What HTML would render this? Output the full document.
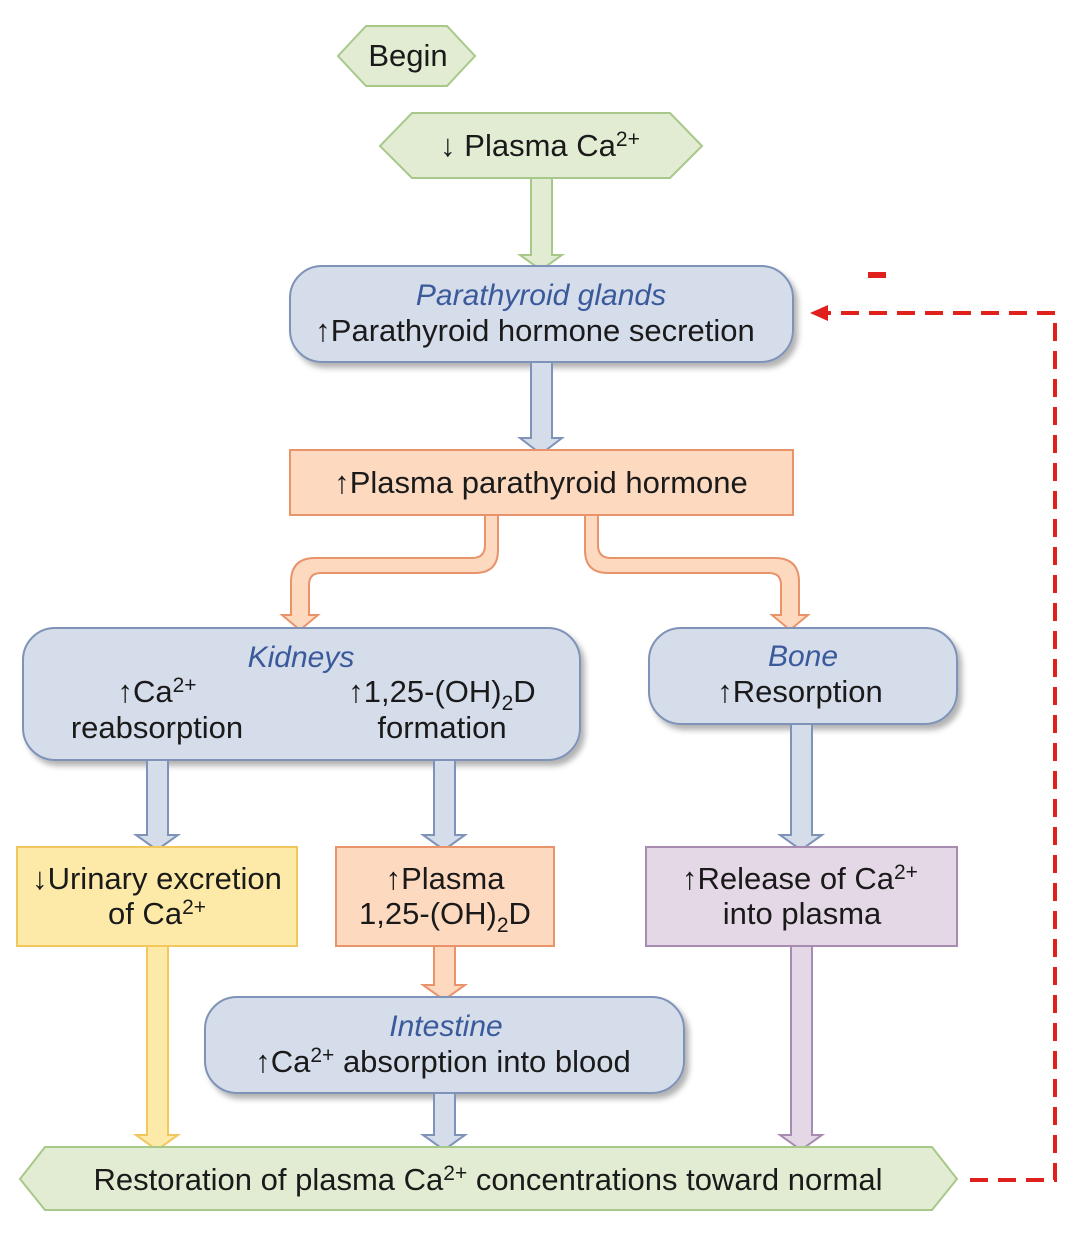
<!DOCTYPE html>
<html><head><meta charset="utf-8"><style>
html,body{margin:0;padding:0;background:#fff;}
svg{display:block;font-family:"Liberation Sans",sans-serif;}
.t{font-size:31px;fill:#1a1a1a;text-anchor:middle;}
.h{font-size:30px;fill:#3a5a9c;font-style:italic;text-anchor:middle;}
</style></head><body>
<svg width="1084" height="1236" viewBox="0 0 1084 1236">
<defs>
<filter id="sh" x="-10%" y="-10%" width="130%" height="140%"><feDropShadow dx="4" dy="5" stdDeviation="3" flood-color="#000" flood-opacity="0.3"/></filter>
</defs>
<g>
<polygon points="338,56 366,26 447,26 475,56 447,86 366,86" fill="#e2ecd2" stroke="#a8c88a" stroke-width="2"/>
<text class="t" x="408" y="66">Begin</text></g>
<g>
<polygon points="380,146 412,113 670,113 702,146 670,178 412,178" fill="#e2ecd2" stroke="#a8c88a" stroke-width="2"/>
<text class="t" x="540" y="156">↓ Plasma Ca<tspan dy="-10" font-size="21">2+</tspan></text></g>
<polygon points="531,178 552,178 552,255 562,255 541,270 520,255 531,255" fill="#e2ecd2" stroke="#a8c88a" stroke-width="2"/>
<g>
<rect x="290" y="266" width="503" height="96" rx="32" fill="#d5dcea" stroke="#7f93b8" stroke-width="2" filter="url(#sh)"/>
<text class="h" x="541" y="305">Parathyroid glands</text>
<text class="t" x="535" y="341">↑Parathyroid hormone secretion</text></g>
<polygon points="531,362 552,362 552,438 562,438 541,454 520,438 531,438" fill="#d5dcea" stroke="#7f93b8" stroke-width="2"/>
<g>
<rect x="290" y="450" width="503" height="65" fill="#fdd9c0" stroke="#e8936a" stroke-width="2"/>
<text class="t" x="541" y="493">↑Plasma parathyroid hormone</text></g>
<path d="M485,515 L485,545 Q485,558 472,558 L315,558 Q291,558 291,582 L291,615 L282,615 L300,630 L318,615 L309,615 L309,585 Q309,573 321,573 L475,573 Q498,573 498,550 L498,515 Z" fill="#fdd9c0" stroke="#e8936a" stroke-width="2"/>
<path d="M598,515 L598,545 Q598,558 611,558 L775,558 Q799,558 799,582 L799,615 L808,615 L790,630 L772,615 L781,615 L781,585 Q781,573 769,573 L608,573 Q585,573 585,550 L585,515 Z" fill="#fdd9c0" stroke="#e8936a" stroke-width="2"/>
<g>
<rect x="23" y="628" width="557" height="132" rx="32" fill="#d5dcea" stroke="#7f93b8" stroke-width="2" filter="url(#sh)"/>
<text class="h" x="301" y="667">Kidneys</text>
<text class="t" x="157" y="702">↑Ca<tspan dy="-10" font-size="21">2+</tspan></text>
<text class="t" x="157" y="738">reabsorption</text>
<text class="t" x="442" y="702">↑1,25-(OH)<tspan dy="8" font-size="21">2</tspan><tspan dy="-8">D</tspan></text>
<text class="t" x="442" y="738">formation</text></g>
<g>
<rect x="649" y="628" width="308" height="96" rx="32" fill="#d5dcea" stroke="#7f93b8" stroke-width="2" filter="url(#sh)"/>
<text class="h" x="803" y="666">Bone</text>
<text class="t" x="800" y="702">↑Resorption</text></g>
<polygon points="147,760 168,760 168,835 178,835 157,850 136,835 147,835" fill="#d5dcea" stroke="#7f93b8" stroke-width="2"/>
<polygon points="434,760 455,760 455,835 465,835 444,850 423,835 434,835" fill="#d5dcea" stroke="#7f93b8" stroke-width="2"/>
<polygon points="791,724 812,724 812,835 822,835 801,850 780,835 791,835" fill="#d5dcea" stroke="#7f93b8" stroke-width="2"/>
<g>
<rect x="17" y="847" width="280" height="99" fill="#fdeaa8" stroke="#f2c85e" stroke-width="2"/>
<text class="t" x="157" y="889">↓Urinary excretion</text>
<text class="t" x="157" y="924">of Ca<tspan dy="-10" font-size="21">2+</tspan></text></g>
<g>
<rect x="336" y="847" width="218" height="99" fill="#fdd9c0" stroke="#e8936a" stroke-width="2"/>
<text class="t" x="445" y="889">↑Plasma</text>
<text class="t" x="445" y="924">1,25-(OH)<tspan dy="8" font-size="21">2</tspan><tspan dy="-8">D</tspan></text></g>
<g>
<rect x="646" y="847" width="311" height="99" fill="#e5d8e6" stroke="#a78bb0" stroke-width="2"/>
<text class="t" x="800" y="889">↑Release of Ca<tspan dy="-10" font-size="21">2+</tspan></text>
<text class="t" x="802" y="924">into plasma</text></g>
<polygon points="147,946 168,946 168,1135 178,1135 157,1150 136,1135 147,1135" fill="#fdeaa8" stroke="#f2c85e" stroke-width="2"/>
<polygon points="434,946 455,946 455,985 465,985 444,1000 423,985 434,985" fill="#fdd9c0" stroke="#e8936a" stroke-width="2"/>
<polygon points="791,946 812,946 812,1135 822,1135 801,1150 780,1135 791,1135" fill="#e5d8e6" stroke="#a78bb0" stroke-width="2"/>
<g>
<rect x="205" y="997" width="479" height="96" rx="32" fill="#d5dcea" stroke="#7f93b8" stroke-width="2" filter="url(#sh)"/>
<text class="h" x="446" y="1036">Intestine</text>
<text class="t" x="443" y="1072">↑Ca<tspan dy="-10" font-size="21">2+</tspan><tspan dy="10"> absorption into blood</tspan></text></g>
<polygon points="434,1093 455,1093 455,1135 465,1135 444,1150 423,1135 434,1135" fill="#d5dcea" stroke="#7f93b8" stroke-width="2"/>
<g>
<polygon points="20,1179 45,1147 932,1147 957,1179 932,1210 45,1210" fill="#e2ecd2" stroke="#a8c88a" stroke-width="2"/>
<text class="t" x="488" y="1190">Restoration of plasma Ca<tspan dy="-10" font-size="21">2+</tspan><tspan dy="10"> concentrations toward normal</tspan></text></g>
<g>
<polyline points="970,1180 1055,1180 1055,313 826,313" fill="none" stroke="#e0201c" stroke-width="4" stroke-dasharray="18,10"/>
<polygon points="810,313 828,305 828,321" fill="#e0201c"/>
<rect x="868" y="272" width="18" height="6" fill="#e0201c"/></g>
</svg>
</body></html>
